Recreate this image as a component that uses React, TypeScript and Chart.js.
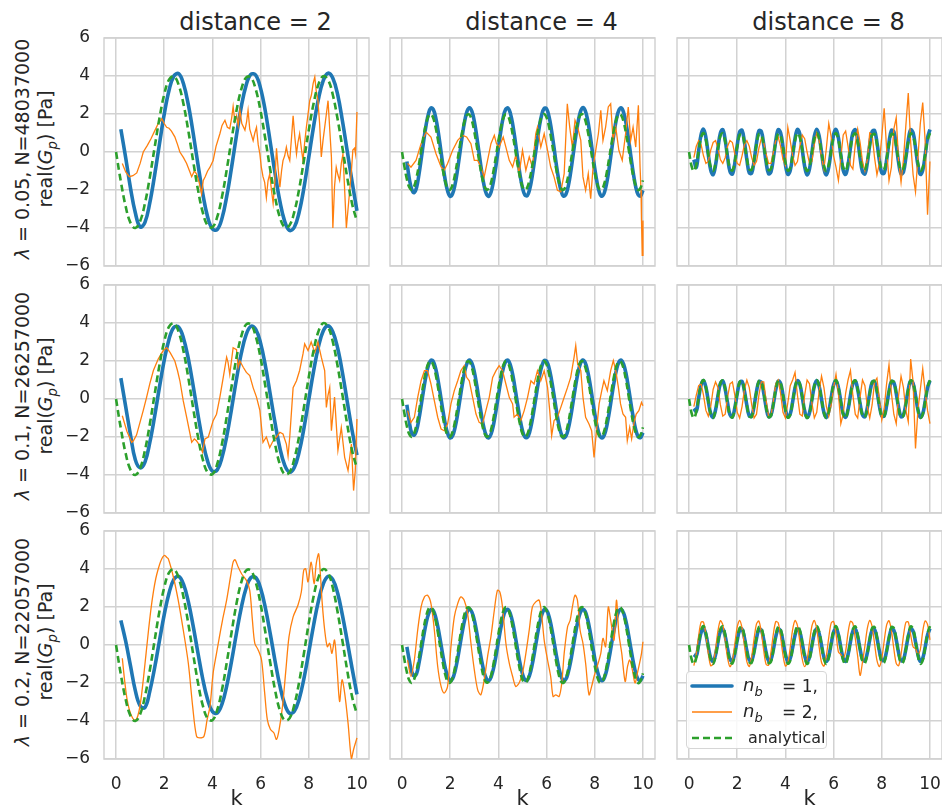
import React, { useEffect, useRef } from 'react';
import { Chart, registerables } from 'chart.js';

Chart.register(...registerables);

// ---------------- data ----------------
const COL_TITLES = ['distance = 2', 'distance = 4', 'distance = 8'];
const ROW_LAMBDA = ['0.05', '0.1', '0.2'];
const ROW_N = ['48037000', '26257000', '22057000'];
const X_TICKS = [0, 2, 4, 6, 8, 10];
const Y_TICKS = [-6, -4, -2, 0, 2, 4, 6];

const K_COARSE = [0, 0.2, 0.4, 0.6, 0.8, 1, 1.2, 1.4, 1.6, 1.8, 2, 2.2, 2.4, 2.6, 2.8, 3, 3.2, 3.4, 3.6, 3.8, 4, 4.2, 4.4, 4.6, 4.8, 5, 5.2, 5.4, 5.6, 5.8, 6, 6.2, 6.4, 6.6, 6.8, 7, 7.2, 7.4, 7.6, 7.8, 8, 8.2, 8.4, 8.6, 8.8, 9, 9.2, 9.4, 9.6, 9.8, 10];
const K_FINE = [
  0, 0.1, 0.2, 0.3, 0.4, 0.5, 0.6, 0.7, 0.8, 0.9,
  1, 1.1, 1.2, 1.3, 1.4, 1.5, 1.6, 1.7, 1.8, 1.9,
  2, 2.1, 2.2, 2.3, 2.4, 2.5, 2.6, 2.7, 2.8, 2.9,
  3, 3.1, 3.2, 3.3, 3.4, 3.5, 3.6, 3.7, 3.8, 3.9,
  4, 4.1, 4.2, 4.3, 4.4, 4.5, 4.6, 4.7, 4.8, 4.9,
  5, 5.1, 5.2, 5.3, 5.4, 5.5, 5.6, 5.7, 5.8, 5.9,
  6, 6.1, 6.2, 6.3, 6.4, 6.5, 6.6, 6.7, 6.8, 6.9,
  7, 7.1, 7.2, 7.3, 7.4, 7.5, 7.6, 7.7, 7.8, 7.9,
  8, 8.1, 8.2, 8.3, 8.4, 8.5, 8.6, 8.7, 8.8, 8.9,
  9, 9.1, 9.2, 9.3, 9.4, 9.5, 9.6, 9.7, 9.8, 9.9,
  10,
];

// analytical (green dashed)
const ANALYTIC_D2 = [0, -1.56, -2.87, -3.73, -4.0, -3.64, -2.7, -1.34, 0.23, 1.77, 3.03, 3.81, 3.98, 3.53, 2.52, 1.12, -0.47, -1.98, -3.18, -3.87, -3.96, -3.42, -2.34, -0.89, 0.7, 2.18, 3.31, 3.92, 3.92, 3.29, 2.15, 0.66, -0.92, -2.37, -3.44, -3.96, -3.86, -3.15, -1.95, -0.43, 1.15, 2.55, 3.55, 3.99, 3.8, 3.0, 1.71, 0.2, -1.37, -2.73, -3.65];
const ANALYTIC_D4 = [
  0, -0.78, -1.43, -1.86, -2.0, -1.82, -1.35, -0.67, 0.12, 0.89,
  1.51, 1.9, 1.99, 1.77, 1.26, 0.56, -0.23, -0.99, -1.59, -1.94,
  -1.98, -1.71, -1.17, -0.45, 0.35, 1.09, 1.66, 1.96, 1.96, 1.65,
  1.07, 0.33, -0.46, -1.18, -1.72, -1.98, -1.93, -1.58, -0.97, -0.21,
  0.58, 1.28, 1.77, 1.99, 1.9, 1.5, 0.87, 0.1, -0.69, -1.36,
  -1.83, -2.0, -1.86, -1.42, -0.76, 0.02, 0.79, 1.45, 1.87, 2.0,
  1.81, 1.34, 0.65, -0.13, -0.9, -1.53, -1.91, -1.99, -1.76, -1.25,
  -0.54, 0.25, 1.01, 1.6, 1.94, 1.98, 1.7, 1.16, 0.43, -0.37,
  -1.1, -1.67, -1.97, -1.95, -1.64, -1.06, -0.31, 0.48, 1.2, 1.73,
  1.98, 1.93, 1.57, 0.96, 0.2, -0.59, -1.29, -1.78, -2.0, -1.89,
  -1.49,
];
const ANALYTIC_D8 = [
  0, -0.72, -1.0, -0.68, 0.06, 0.76, 1.0, 0.63, -0.12, -0.79,
  -0.99, -0.59, 0.17, 0.83, 0.98, 0.54, -0.23, -0.86, -0.97, -0.49,
  0.29, 0.89, 0.95, 0.43, -0.34, -0.91, -0.93, -0.38, 0.4, 0.94,
  0.91, 0.33, -0.45, -0.95, -0.88, -0.27, 0.5, 0.97, 0.85, 0.21,
  -0.55, -0.98, -0.82, -0.16, 0.6, 0.99, 0.78, 0.1, -0.65, -1.0,
  -0.75, -0.04, 0.69, 1.0, 0.71, -0.02, -0.73, -1.0, -0.66, 0.08,
  0.77, 0.99, 0.62, -0.14, -0.81, -0.99, -0.57, 0.19, 0.84, 0.98,
  0.52, -0.25, -0.87, -0.96, -0.47, 0.31, 0.89, 0.94, 0.42, -0.36,
  -0.92, -0.92, -0.37, 0.41, 0.94, 0.9, 0.31, -0.47, -0.96, -0.87,
  -0.25, 0.52, 0.98, 0.84, 0.2, -0.57, -0.99, -0.81, -0.14, 0.61,
  0.99,
];

// n_b = 1 (blue)
const NB1_D2_L005 = [null, 1.2, -0.3, -1.9, -3.2, -3.95, -3.7, -2.68, -1.23, 0.41, 1.99, 3.25, 4.0, 4.12, 3.59, 2.49, 1.0, -0.65, -2.19, -3.41, -4.05, -4.08, -3.48, -2.3, -0.77, 0.88, 2.39, 3.52, 4.09, 4.04, 3.35, 2.12, 0.53, -1.12, -2.59, -3.65, -4.13, -3.96, -3.17, -1.88, -0.28, 1.35, 2.78, 3.76, 4.15, 3.88, 3.02, 1.62, 0.02, -1.58, -3.1];
const NB1_D2_L01 = [null, 1.1, -0.4, -1.9, -3.2, -3.62, -3.32, -2.3, -0.92, 0.61, 2.04, 3.15, 3.77, 3.78, 3.2, 2.12, 0.7, -0.83, -2.23, -3.27, -3.8, -3.73, -3.07, -1.93, -0.48, 1.05, 2.41, 3.39, 3.83, 3.67, 2.93, 1.74, 0.25, -1.26, -2.58, -3.48, -3.85, -3.6, -2.79, -1.53, -0.03, 1.47, 2.74, 3.58, 3.85, 3.53, 2.67, 1.37, -0.16, -1.67, -2.95];
const NB1_D2_L02 = [null, 1.3, 0.2, -1.1, -2.4, -3.2, -3.29, -2.44, -1.21, 0.21, 1.6, 2.74, 3.45, 3.61, 3.2, 2.28, 1.01, -0.42, -1.79, -2.87, -3.5, -3.58, -3.1, -2.12, -0.81, 0.63, 1.97, 3.0, 3.55, 3.55, 2.98, 1.94, 0.6, -0.84, -2.14, -3.11, -3.59, -3.49, -2.85, -1.76, -0.39, 1.04, 2.31, 3.21, 3.61, 3.44, 2.72, 1.55, 0.18, -1.24, -2.6];

const NB1_D4_L005 = [
  null, null, -0.5, -1.4, -1.95, -2.14, -1.88, -1.2, -0.33, 0.6,
  1.43, 2.03, 2.32, 2.23, 1.8, 1.08, 0.19, -0.73, -1.53, -2.09,
  -2.33, -2.19, -1.71, -0.96, -0.06, 0.86, 1.63, 2.15, 2.33, 2.14,
  1.62, 0.83, -0.08, -0.98, -1.73, -2.2, -2.33, -2.09, -1.51, -0.71,
  0.21, 1.1, 1.82, 2.24, 2.31, 2.02, 1.41, 0.57, -0.35, -1.22,
  -1.89, -2.27, -2.29, -1.95, -1.3, -0.44, 0.48, 1.33, 1.97, 2.3,
  2.27, 1.87, 1.18, 0.31, -0.62, -1.44, -2.04, -2.32, -2.23, -1.79,
  -1.07, -0.17, 0.74, 1.54, 2.1, 2.33, 2.19, 1.7, 0.94, 0.04,
  -0.87, -1.64, -2.16, -2.33, -2.13, -1.6, -0.82, 0.1, 1.0, 1.74,
  2.2, 2.32, 2.07, 1.5, 0.69, -0.24, -1.12, -1.83, -2.25, -2.31,
  -2.01,
];
const NB1_D4_L01 = [
  null, null, -0.3, -1.2, -1.8, -1.9, -1.66, -1.06, -0.29, 0.52,
  1.25, 1.79, 2.04, 1.97, 1.58, 0.95, 0.17, -0.64, -1.35, -1.84,
  -2.05, -1.93, -1.5, -0.85, -0.05, 0.75, 1.44, 1.89, 2.05, 1.88,
  1.43, 0.73, -0.07, -0.86, -1.52, -1.94, -2.05, -1.83, -1.33, -0.62,
  0.19, 0.97, 1.6, 1.97, 2.04, 1.78, 1.24, 0.5, -0.31, -1.07,
  -1.67, -2.0, -2.02, -1.72, -1.14, -0.39, 0.42, 1.17, 1.73, 2.02,
  1.99, 1.65, 1.04, 0.27, -0.54, -1.27, -1.8, -2.04, -1.96, -1.57,
  -0.94, -0.15, 0.65, 1.36, 1.85, 2.05, 1.92, 1.49, 0.83, 0.03,
  -0.77, -1.45, -1.9, -2.05, -1.88, -1.41, -0.72, 0.09, 0.88, 1.53,
  1.94, 2.04, 1.82, 1.32, 0.6, -0.21, -0.98, -1.61, -1.98, -2.03,
  -1.77,
];
const NB1_D4_L02 = [
  null, null, -0.1, -0.8, -1.4, -1.63, -1.52, -0.97, -0.27, 0.48,
  1.15, 1.64, 1.87, 1.8, 1.45, 0.87, 0.16, -0.59, -1.24, -1.69,
  -1.88, -1.77, -1.38, -0.78, -0.05, 0.69, 1.32, 1.74, 1.88, 1.73,
  1.31, 0.67, -0.06, -0.79, -1.39, -1.77, -1.88, -1.68, -1.22, -0.57,
  0.17, 0.89, 1.46, 1.81, 1.87, 1.63, 1.14, 0.46, -0.28, -0.98,
  -1.53, -1.83, -1.85, -1.57, -1.05, -0.36, 0.39, 1.08, 1.59, 1.86,
  1.83, 1.51, 0.96, 0.25, -0.5, -1.16, -1.65, -1.87, -1.8, -1.44,
  -0.86, -0.14, 0.6, 1.25, 1.7, 1.88, 1.77, 1.37, 0.76, 0.03,
  -0.71, -1.33, -1.74, -1.88, -1.72, -1.29, -0.66, 0.08, 0.8, 1.4,
  1.78, 1.87, 1.67, 1.21, 0.55, -0.19, -0.9, -1.47, -1.81, -1.86,
  -1.62,
];

const NB1_D8_L005 = [
  null, null, -0.4, -0.81, 0.07, 0.91, 1.2, 0.76, -0.14, -0.95,
  -1.19, -0.7, 0.21, 0.99, 1.18, 0.64, -0.28, -1.03, -1.16, -0.58,
  0.35, 1.06, 1.14, 0.52, -0.41, -1.1, -1.11, -0.46, 0.48, 1.12,
  1.09, 0.39, -0.54, -1.14, -1.05, -0.33, 0.6, 1.17, 1.02, 0.26,
  -0.66, -1.18, -0.98, -0.19, 0.72, 1.19, 0.94, 0.12, -0.77, -1.2,
  -0.89, -0.05, 0.83, 1.2, 0.85, -0.02, -0.88, -1.2, -0.79, 0.09,
  0.92, 1.19, 0.74, -0.16, -0.97, -1.18, -0.68, 0.23, 1.01, 1.17,
  0.63, -0.3, -1.04, -1.15, -0.57, 0.37, 1.07, 1.13, 0.5, -0.43,
  -1.1, -1.11, -0.44, 0.5, 1.13, 1.08, 0.37, -0.56, -1.15, -1.05,
  -0.3, 0.62, 1.17, 1.01, 0.24, -0.68, -1.18, -0.97, -0.17, 0.74,
  1.19,
];
const NB1_D8_L01 = [
  null, null, -0.5, -0.65, 0.06, 0.73, 0.97, 0.61, -0.11, -0.77,
  -0.96, -0.57, 0.17, 0.8, 0.95, 0.52, -0.22, -0.83, -0.94, -0.47,
  0.28, 0.86, 0.92, 0.42, -0.33, -0.89, -0.9, -0.37, 0.39, 0.91,
  0.88, 0.32, -0.44, -0.93, -0.85, -0.26, 0.49, 0.94, 0.82, 0.21,
  -0.53, -0.95, -0.79, -0.15, 0.58, 0.96, 0.76, 0.1, -0.63, -0.97,
  -0.72, -0.04, 0.67, 0.97, 0.68, -0.02, -0.71, -0.97, -0.64, 0.07,
  0.74, 0.96, 0.6, -0.13, -0.78, -0.96, -0.55, 0.19, 0.81, 0.95,
  0.51, -0.24, -0.84, -0.93, -0.46, 0.3, 0.87, 0.92, 0.41, -0.35,
  -0.89, -0.89, -0.35, 0.4, 0.91, 0.87, 0.3, -0.45, -0.93, -0.84,
  -0.25, 0.5, 0.95, 0.82, 0.19, -0.55, -0.96, -0.78, -0.13, 0.59,
  0.96,
];
const NB1_D8_L02 = [
  null, null, -0.5, -0.59, 0.05, 0.66, 0.87, 0.55, -0.1, -0.69,
  -0.86, -0.51, 0.15, 0.72, 0.85, 0.47, -0.2, -0.75, -0.84, -0.42,
  0.25, 0.77, 0.83, 0.38, -0.3, -0.79, -0.81, -0.33, 0.35, 0.81,
  0.79, 0.28, -0.39, -0.83, -0.76, -0.24, 0.44, 0.84, 0.74, 0.19,
  -0.48, -0.86, -0.71, -0.14, 0.52, 0.86, 0.68, 0.09, -0.56, -0.87,
  -0.65, -0.03, 0.6, 0.87, 0.61, -0.02, -0.64, -0.87, -0.58, 0.07,
  0.67, 0.86, 0.54, -0.12, -0.7, -0.86, -0.5, 0.17, 0.73, 0.85,
  0.45, -0.22, -0.76, -0.84, -0.41, 0.27, 0.78, 0.82, 0.36, -0.31,
  -0.8, -0.8, -0.32, 0.36, 0.82, 0.78, 0.27, -0.41, -0.83, -0.76,
  -0.22, 0.45, 0.85, 0.73, 0.17, -0.49, -0.86, -0.7, -0.12, 0.53,
  0.86,
];

// n_b = 2 (orange), distance = 2 (irregular k samples)
const NB2_D2_L005_K = [0.26, 0.4, 0.55, 0.7, 0.86, 1.0, 1.13, 1.3, 1.45, 1.62, 1.75, 1.9, 2.0, 2.1, 2.2, 2.3, 2.44, 2.55, 2.65, 2.8, 2.93, 3.05, 3.14, 3.25, 3.34, 3.45, 3.55, 3.62, 3.7, 3.8, 3.9, 4.03, 4.15, 4.31, 4.4, 4.52, 4.62, 4.72, 4.8, 4.86, 4.93, 5.0, 5.07, 5.14, 5.22, 5.35, 5.42, 5.48, 5.55, 5.62, 5.69, 5.76, 5.83, 5.9, 5.97, 6.03, 6.1, 6.17, 6.24, 6.31, 6.38, 6.45, 6.52, 6.59, 6.66, 6.73, 6.8, 6.87, 6.93, 7.0, 7.07, 7.14, 7.21, 7.28, 7.35, 7.42, 7.49, 7.55, 7.62, 7.69, 7.76, 7.83, 7.9, 7.97, 8.04, 8.11, 8.18, 8.25, 8.31, 8.38, 8.45, 8.52, 8.59, 8.66, 8.73, 8.8, 8.87, 8.94, 9.0, 9.07, 9.14, 9.21, 9.28, 9.35, 9.42, 9.49, 9.56, 9.63, 9.7, 9.77, 9.83, 9.9, 9.94, 10.0];
const NB2_D2_L005 = [-0.6, -1.05, -1.3, -1.25, -1.1, -0.6, 0, 0.35, 0.7, 1.15, 1.5, 1.75, 1.5, 1.3, 1.25, 1.1, 0.8, 0.4, 0, -0.3, -0.6, -1.0, -1.3, -1.0, -1.15, -1.6, -2.2, -1.5, -1.3, -1.0, -0.8, -0.45, 0.3, 0.96, 1.4, 1.67, 1.3, 1.23, 1.8, 2.4, 1.6, 1.9, 1.4, 2.2, 1.5, 1.15, 1.6, 2.2, 1.2, 0.9, 0.6, 1.0, 1.3, 0.4, -0.1, -0.8, -1.3, -1.6, -2.4, -1.5, -1.15, -2.0, -2.7, -1.6, 0.2, -0.9, -1.85, -1.0, -0.45, -0.2, 0.26, -0.2, -0.45, 0.7, 1.9, 0.8, -0.1, 0.5, 0.96, 0.2, -0.45, 0.5, 1.3, 2.0, 2.7, 3.0, 3.6, 3.95, 3.2, 2.7, 1.5, -0.26, 0.6, 1.3, 2.0, 2.7, 1.2, -0.26, -4.0, -1.8, -0.8, -1.2, -1.5, -0.6, -0.1, -2.0, -4.0, -3.0, -2.0, -1.0, 0.1, 0.2, -0.1, 2.1];
const NB2_D2_L01_K = [0.26, 0.45, 0.65, 0.72, 0.85, 1.0, 1.13, 1.27, 1.4, 1.55, 1.75, 1.96, 2.1, 2.24, 2.44, 2.55, 2.65, 2.79, 2.93, 3.07, 3.14, 3.25, 3.34, 3.48, 3.59, 3.69, 3.83, 4.03, 4.17, 4.31, 4.45, 4.59, 4.65, 4.72, 4.86, 5.0, 5.07, 5.14, 5.28, 5.41, 5.55, 5.69, 5.83, 5.97, 6.1, 6.24, 6.38, 6.52, 6.66, 6.8, 6.93, 7.07, 7.14, 7.21, 7.35, 7.49, 7.62, 7.76, 7.83, 7.97, 8.1, 8.25, 8.38, 8.52, 8.66, 8.73, 8.8, 8.87, 8.94, 9.07, 9.21, 9.35, 9.49, 9.63, 9.77, 9.86, 9.93, 10.0];
const NB2_D2_L01 = [-0.88, -1.7, -2.28, -2.2, -1.9, -1.2, -0.6, 0.1, 0.8, 1.5, 2.1, 2.55, 2.7, 2.45, 2.0, 1.5, 0.96, -0.1, -0.96, -1.84, -2.28, -2.1, -2.2, -2.46, -2.8, -2.1, -2.0, -1.14, -0.8, 0.1, 1.14, 2.2, 1.93, 1.3, 2.7, 2.6, 1.67, 2.0, 1.67, 1.4, 1.23, 0.6, 0.1, -0.6, -2.28, -2.0, -2.55, -2.2, -2.0, -1.75, -1.84, -2.37, -3.0, -2.0, 0.6, 0.96, 1.5, 2.37, 2.9, 2.55, 3.0, 2.45, 3.0, 2.2, 1.5, -0.44, 0.2, 0.6, -1.67, 0.1, -2.7, -1.5, -3.07, -3.77, -2.37, -4.82, -3.77, -1.05];
const NB2_D2_L02_K = [0.26, 0.35, 0.45, 0.55, 0.65, 0.75, 0.85, 0.95, 1.05, 1.15, 1.25, 1.35, 1.45, 1.55, 1.65, 1.75, 1.85, 1.95, 2.02, 2.1, 2.17, 2.38, 2.58, 2.79, 3.0, 3.18, 3.34, 3.48, 3.65, 3.78, 3.9, 4.03, 4.17, 4.28, 4.42, 4.59, 4.75, 4.86, 4.94, 5.07, 5.21, 5.41, 5.55, 5.66, 5.76, 5.9, 6.04, 6.17, 6.28, 6.41, 6.55, 6.66, 6.77, 6.91, 7.05, 7.18, 7.35, 7.55, 7.69, 7.79, 7.87, 7.97, 8.1, 8.22, 8.31, 8.41, 8.48, 8.56, 8.66, 8.77, 8.87, 8.96, 9.07, 9.17, 9.28, 9.38, 9.49, 9.63, 9.77, 9.86, 10.0];
const NB2_D2_L02 = [-0.7, -1.8, -2.8, -3.4, -3.75, -3.95, -3.9, -3.5, -2.7, -1.6, -0.4, 0.8, 1.9, 2.8, 3.5, 4.0, 4.4, 4.65, 4.72, 4.62, 4.54, 3.58, 2.36, 0.79, -0.96, -3.23, -4.8, -4.89, -4.8, -3.93, -3.23, -1.48, -0.44, 0.35, 1.31, 2.36, 3.58, 4.36, 4.49, 4.1, 3.75, 3.4, 2.88, 1.31, 0.09, -0.26, -0.79, -2.53, -3.93, -4.45, -4.62, -4.97, -4.45, -3.23, -1.31, 0.44, 1.48, 2.09, 2.79, 3.93, 4.01, 3.32, 4.36, 3.23, 4.28, 4.8, 3.75, 2.18, 0.79, -0.09, 0.09, -0.44, 0.26, -1.13, -2.97, -1.83, -2.53, -4.1, -5.99, -5.5, -4.89];

// n_b = 2 (orange), distance = 4
const NB2_D4_L005_K = [0.23, 0.37, 0.58, 0.79, 1.0, 1.2, 1.41, 1.62, 1.75, 1.89, 2.1, 2.31, 2.51, 2.68, 2.86, 3.0, 3.14, 3.27, 3.41, 3.55, 3.69, 3.83, 3.92, 4.03, 4.2, 4.31, 4.45, 4.59, 4.72, 4.86, 5.0, 5.14, 5.28, 5.41, 5.55, 5.62, 5.76, 5.9, 6.04, 6.17, 6.31, 6.45, 6.59, 6.73, 6.86, 6.96, 7.07, 7.18, 7.29, 7.42, 7.51, 7.62, 7.73, 7.83, 7.93, 8.04, 8.15, 8.25, 8.34, 8.45, 8.56, 8.66, 8.76, 8.87, 9.0, 9.14, 9.28, 9.39, 9.49, 9.59, 9.7, 9.81, 9.88, 9.92, 9.94, 9.97, 10.0];
const NB2_D4_L005 = [-0.6, -0.8, -0.44, 0.44, 1.05, 0.79, -0.09, -0.79, -0.96, -0.61, 0.09, 0.61, 0.88, 0.79, 0.44, -0.44, -0.44, -0.79, -1.31, -0.44, 0.44, 0.88, 0.44, 0.26, 0.79, 0.26, -0.44, -0.79, -0.18, -1.14, 0.09, -0.96, -0.26, -0.79, 0.96, 1.31, 0.26, 0.96, 0.09, -0.79, -1.31, -2.02, -2.1, -1.14, 2.54, 1.31, 0.26, 1.67, 1.31, 0.61, -1.31, -2.02, -1.14, -2.46, -0.79, 0.09, 0.96, 2.19, 0.61, 1.31, 2.37, 2.54, 0.61, 1.31, 0.09, -0.44, 0.96, 2.37, 0.61, 1.31, 0.26, 2.46, -0.79, -2.02, -3.6, -5.44, -3.6];
const NB2_D4_L01_K = [0.23, 0.37, 0.51, 0.65, 0.79, 0.93, 1.06, 1.2, 1.34, 1.48, 1.62, 1.75, 1.89, 2.03, 2.17, 2.31, 2.44, 2.58, 2.68, 2.79, 2.93, 3.07, 3.2, 3.34, 3.48, 3.62, 3.76, 3.9, 4.03, 4.17, 4.31, 4.45, 4.59, 4.65, 4.79, 4.93, 5.07, 5.21, 5.35, 5.48, 5.62, 5.76, 5.9, 6.04, 6.13, 6.21, 6.31, 6.45, 6.59, 6.73, 6.87, 7.0, 7.14, 7.21, 7.29, 7.42, 7.51, 7.62, 7.76, 7.87, 7.97, 8.07, 8.18, 8.29, 8.38, 8.52, 8.66, 8.77, 8.87, 8.98, 9.07, 9.17, 9.28, 9.35, 9.45, 9.53, 9.63, 9.72, 9.83, 9.94, 10.0];
const NB2_D4_L01 = [-0.61, -1.23, -0.96, 0.09, 0.96, 1.49, 1.49, 0.79, -0.09, -0.96, -1.58, -1.67, -1.32, -0.26, 0.44, 0.96, 1.49, 1.75, 1.14, 0.96, 0.09, -0.79, -1.23, -1.32, -0.61, 0.09, 1.14, 1.49, 1.75, 1.49, 0.79, 0.09, -0.26, -0.96, -0.79, -1.14, -0.61, 0.09, 0.96, 0.79, 1.49, 0.96, 1.49, 0.61, -0.61, -1.93, -1.14, -0.96, -0.44, 0.09, 0.61, 1.14, 2.19, 2.81, 1.84, 1.49, 0.09, -0.96, -1.32, -1.67, -3.07, -1.67, -0.26, 0.44, 0.96, 0.44, 1.49, 2.02, 1.49, 0.61, -0.26, -0.79, -0.96, -2.19, -1.49, -2.1, -1.23, -0.79, -0.61, -0.18, -0.35];
const NB2_D4_L02_K = [0.23, 0.37, 0.51, 0.65, 0.79, 0.93, 1.06, 1.2, 1.34, 1.48, 1.62, 1.75, 1.89, 2.03, 2.17, 2.31, 2.44, 2.58, 2.72, 2.86, 3.0, 3.14, 3.27, 3.41, 3.55, 3.69, 3.83, 3.96, 4.06, 4.17, 4.31, 4.45, 4.59, 4.72, 4.86, 5.0, 5.14, 5.28, 5.41, 5.55, 5.69, 5.79, 5.9, 6.04, 6.17, 6.27, 6.38, 6.52, 6.63, 6.73, 6.87, 6.98, 7.07, 7.18, 7.28, 7.39, 7.51, 7.62, 7.76, 7.87, 7.97, 8.1, 8.25, 8.34, 8.45, 8.56, 8.66, 8.8, 8.9, 9.0, 9.12, 9.26, 9.36, 9.45, 9.56, 9.67, 9.77, 9.86, 9.94, 10.0];
const NB2_D4_L02 = [-0.79, -1.66, -0.79, 0.79, 2.0, 2.53, 2.62, 2.18, 0.79, -1.13, -2.18, -2.53, -2.18, -0.09, 1.48, 2.18, 2.53, 2.36, 1.66, 0.09, -1.31, -2.36, -2.62, -1.83, -0.61, 0.44, 1.83, 2.88, 2.79, 2.0, 0.09, -0.96, -1.66, -2.18, -2.0, -1.48, -0.44, 0.79, 2.0, 2.27, 2.36, 1.66, 0.26, -0.79, -1.66, -2.71, -2.62, -2.71, -2.0, -0.44, 0.96, 1.31, 2.0, 2.62, 2.36, 0.79, 0.09, -0.96, -2.62, -2.18, -1.66, -1.13, -0.44, 0.35, -0.09, 2.0, 1.31, 0.26, 2.36, 0.61, -0.44, -1.92, -1.13, -0.79, -1.31, -2.0, -1.48, -0.96, -0.44, 0.17];

// n_b = 2 (orange), distance = 8 (on K_FINE)
const NB2_D8_L005 = [
  null, null, -0.3, 0.3, 0.6, 0.4, -0.2, -0.6, -0.5, 0.1,
  0.5, 0.6, 0.2, -0.4, -0.6, -0.3, 0.3, 0.6, 0.5, -0.1,
  -0.6, -0.7, -0.2, 0.4, 0.6, 0.3, -0.3, -0.7, -0.5, 0.2,
  0.7, 0.5, -0.1, -0.6, -0.6, 0.0, 0.6, 0.8, 0.3, -0.4,
  -0.7, 1.3, 0.6, -0.2, -0.7, -0.5, 0.3, 0.9, 0.7, 0.0,
  -0.6, -0.5, 0.4, 1.0, 0.6, -0.3, -0.9, 0.2, 1.5, 0.8,
  -0.2, -0.8, -1.5, -0.3, 0.9, 1.1, 0.3, -0.7, -0.9, 0.4,
  1.2, 0.5, -0.5, -1.0, -0.4, 1.0, 0.9, -0.3, -1.2, -0.6,
  0.8, 2.3, 0.2, -1.5, -0.8, 1.2, 1.8, -0.5, -1.6, -0.4,
  1.4, 3.1, 0.5, -1.2, -2.1, -0.3, 1.5, 2.6, 0.6, -3.3,
  -0.5,
];
const NB2_D8_L01 = [
  null, null, -0.4, 0.2, 0.7, 0.8, 0.2, -0.6, -0.9, -0.4,
  0.5, 0.9, 0.6, -0.3, -0.9, -0.8, 0.1, 0.8, 0.9, 0.2,
  -0.7, -1.0, -0.4, 0.5, 1.0, 0.6, -0.3, -1.0, -0.8, 0.2,
  0.9, 0.9, -0.1, -0.9, -0.9, -0.1, 0.8, 1.0, 0.3, -0.7,
  -1.0, -0.2, 0.7, 1.0, 1.4, 0.2, -0.8, -0.9, 0.2, 1.0,
  0.8, -0.2, -1.0, -0.7, 0.4, 1.2, 0.6, -0.4, -0.9, -0.3,
  0.6, 1.3, 0.3, -1.3, -0.8, 0.3, 1.0, 1.5, 0.2, -0.8,
  -1.0, 0.1, 1.0, 0.7, -0.4, -1.0, -0.3, 0.9, 1.1, 0.0,
  -1.1, -0.5, 0.8, 1.8, 0.3, -0.8, -1.3, 0.2, 1.2, 0.6,
  -0.6, -1.2, 2.1, 0.9, -2.6, -0.6, 0.5, 1.6, 0.4, -0.6,
  -1.3,
];
const NB2_D8_L02 = [
  null, null, -1.09, -0.46, 0.5, 1.2, 1.2, 0.5, -0.46, -1.09,
  -0.98, -0.22, 0.74, 1.28, 1.07, 0.24, -0.69, -1.14, -0.82, 0.05,
  0.95, 1.3, 0.89, -0.03, -0.88, -1.13, -0.62, 0.32, 1.11, 1.26,
  0.67, -0.29, -1.02, -1.06, -0.39, 0.58, 1.23, 1.17, 0.42, -0.53,
  -1.11, -0.94, -0.13, 0.81, 1.29, 1.02, 0.16, -0.75, -1.14, -0.77,
  0.13, 1.0, 1.29, 0.83, -0.11, -0.92, -1.11, -0.56, 0.4, 1.15,
  1.24, 0.6, -0.36, -0.5, -0.7, -0.32, 0.65, 1.25, 1.13, 0.35,
  -0.6, -1.6, -0.9, -0.05, 0.87, 1.3, 0.97, 0.08, -0.81, -1.14,
  -0.71, 0.21, 1.05, 1.28, 0.76, -0.19, -0.97, -1.09, -0.49, 0.48,
  1.19, 1.21, 0.53, -0.1, -0.2, -0.5, -0.24, 0.72, 1.27, 1.08,
  0.27,
];

// ---------------- styling / layout ----------------
const FONT = '"DejaVu Sans", "Liberation Sans", sans-serif';
const TEXT = '#262626';
const GRID = '#d2d2d2';
const BLUE = '#1f77b4';
const ORANGE = '#ff7f0e';
const GREEN = '#2ca02c';

const PLOT_LEFT = [104, 390, 677];
const PLOT_TOP = [38, 285, 531];
const PLOT_W = 265;
const PLOT_H = 228;
const PAGE_W = 942;
const PAGE_H = 812;

type Pt = { x: number; y: number | null };
const pts = (ks: number[], vs: (number | null)[]): Pt[] => ks.map((k, i) => ({ x: k, y: vs[i] }));

const SERIES = [
  [
    { blue: pts(K_COARSE, NB1_D2_L005), orange: pts(NB2_D2_L005_K, NB2_D2_L005), green: pts(K_COARSE, ANALYTIC_D2) },
    { blue: pts(K_FINE, NB1_D4_L005), orange: pts(NB2_D4_L005_K, NB2_D4_L005), green: pts(K_FINE, ANALYTIC_D4) },
    { blue: pts(K_FINE, NB1_D8_L005), orange: pts(K_FINE, NB2_D8_L005), green: pts(K_FINE, ANALYTIC_D8) },
  ],
  [
    { blue: pts(K_COARSE, NB1_D2_L01), orange: pts(NB2_D2_L01_K, NB2_D2_L01), green: pts(K_COARSE, ANALYTIC_D2) },
    { blue: pts(K_FINE, NB1_D4_L01), orange: pts(NB2_D4_L01_K, NB2_D4_L01), green: pts(K_FINE, ANALYTIC_D4) },
    { blue: pts(K_FINE, NB1_D8_L01), orange: pts(K_FINE, NB2_D8_L01), green: pts(K_FINE, ANALYTIC_D8) },
  ],
  [
    { blue: pts(K_COARSE, NB1_D2_L02), orange: pts(NB2_D2_L02_K, NB2_D2_L02), green: pts(K_COARSE, ANALYTIC_D2) },
    { blue: pts(K_FINE, NB1_D4_L02), orange: pts(NB2_D4_L02_K, NB2_D4_L02), green: pts(K_FINE, ANALYTIC_D4) },
    { blue: pts(K_FINE, NB1_D8_L02), orange: pts(K_FINE, NB2_D8_L02), green: pts(K_FINE, ANALYTIC_D8) },
  ],
];

const fmt = (v: number | string) => {
  const n = Number(v);
  return n < 0 ? '\u2212' + Math.abs(n) : String(n);
};

const framePlugin = {
  id: 'frame',
  beforeDatasetsDraw(chart: any) {
    const { ctx, chartArea: a } = chart;
    ctx.save();
    ctx.strokeStyle = GRID;
    ctx.lineWidth = 1.5;
    ctx.strokeRect(a.left, a.top, a.right - a.left, a.bottom - a.top);
    ctx.restore();
  },
};

const zeroPad = (sc: any) => {
  sc.paddingLeft = 0;
  sc.paddingRight = 0;
  sc.paddingTop = 0;
  sc.paddingBottom = 0;
};

function Panel({ row, col }: { row: number; col: number }) {
  const ref = useRef<HTMLCanvasElement>(null);
  const L = col === 0 ? 70 : 3;
  const R = 3;
  const T = 14;
  const B = row === 2 ? PAGE_H - (PLOT_TOP[2] + PLOT_H) : 14;
  const W = PLOT_W + L + R;
  const H = PLOT_H + T + B;

  useEffect(() => {
    const s = SERIES[row][col];
    const chart = new Chart(ref.current as HTMLCanvasElement, {
      type: 'line',
      data: {
        datasets: [
          { label: 'n_b = 1', data: s.blue as any, borderColor: BLUE, backgroundColor: BLUE, borderWidth: 3.6, tension: 0.4, pointRadius: 0, order: 3, fill: false },
          { label: 'n_b = 2', data: s.orange as any, borderColor: ORANGE, backgroundColor: ORANGE, borderWidth: 1.3, tension: row === 2 ? 0.3 : 0, pointRadius: 0, order: 2, fill: false },
          { label: 'analytical', data: s.green as any, borderColor: GREEN, backgroundColor: GREEN, borderWidth: 2.6, borderDash: [7, 4], tension: 0.4, pointRadius: 0, order: 1, fill: false },
        ],
      },
      options: {
        responsive: false,
        animation: false,
        events: [],
        layout: { autoPadding: false, padding: { top: T, right: R, left: 0, bottom: 0 } },
        plugins: { legend: { display: false }, tooltip: { enabled: false }, title: { display: false } },
        scales: {
          x: {
            type: 'linear',
            min: -0.5,
            max: 10.5,
            afterBuildTicks: (sc: any) => { sc.ticks = X_TICKS.map((v) => ({ value: v })); },
            afterFit: (sc: any) => { sc.height = B; zeroPad(sc); },
            grid: { color: GRID, lineWidth: 1.5, drawTicks: false },
            border: { display: false },
            ticks: { display: row === 2, autoSkip: false, maxRotation: 0, minRotation: 0, padding: 15, color: TEXT, font: { family: FONT, size: 17 }, callback: (v: any) => fmt(v) },
            title: { display: row === 2, text: 'k', color: TEXT, font: { family: FONT, size: 21 }, padding: { top: 0, bottom: 0 } },
          },
          y: {
            type: 'linear',
            min: -6,
            max: 6,
            afterBuildTicks: (sc: any) => { sc.ticks = Y_TICKS.map((v) => ({ value: v })); },
            afterFit: (sc: any) => { sc.width = L; zeroPad(sc); },
            grid: { color: GRID, lineWidth: 1.5, drawTicks: false },
            border: { display: false },
            ticks: { display: col === 0, autoSkip: false, padding: 14, color: TEXT, font: { family: FONT, size: 17 }, callback: (v: any) => fmt(v) },
          },
        },
      } as any,
      plugins: [framePlugin],
    });
    return () => chart.destroy();
  }, []);

  return (
    <canvas
      ref={ref}
      width={W}
      height={H}
      style={{ position: 'absolute', left: PLOT_LEFT[col] - L, top: PLOT_TOP[row] - T, width: W, height: H }}
    />
  );
}

function Legend() {
  const rowStyle = (top: number): React.CSSProperties => ({ position: 'absolute', left: 0, top, width: '100%', height: 20 });
  const nb = (txt: string) => (
    <>
      <span style={{ position: 'absolute', left: 56, top: -1, fontSize: 18, fontStyle: 'italic', lineHeight: '20px' }}>
        n<span style={{ fontSize: 13, position: 'relative', top: 5 }}>b</span>
      </span>
      <span style={{ position: 'absolute', left: 95, top: 0, fontSize: 17, lineHeight: '20px' }}>{txt}</span>
    </>
  );
  return (
    <div style={{ position: 'absolute', left: 686, top: 671, width: 141, height: 78, border: '1px solid #d6d6d6', borderRadius: 4, background: 'rgba(255,255,255,0.85)', fontFamily: FONT, color: TEXT, boxSizing: 'border-box' }}>
      <div style={rowStyle(4)}>
        <svg width={46} height={20} style={{ position: 'absolute', left: 3, top: 0 }}>
          <line x1={2} y1={10} x2={42} y2={10} stroke={BLUE} strokeWidth={3.6} strokeLinecap="round" />
        </svg>
        {nb('= 1,')}
      </div>
      <div style={rowStyle(30)}>
        <svg width={46} height={20} style={{ position: 'absolute', left: 3, top: 0 }}>
          <line x1={2} y1={10} x2={42} y2={10} stroke={ORANGE} strokeWidth={1.3} />
        </svg>
        {nb('= 2,')}
      </div>
      <div style={rowStyle(56)}>
        <svg width={46} height={20} style={{ position: 'absolute', left: 3, top: 0 }}>
          <line x1={2} y1={10} x2={42} y2={10} stroke={GREEN} strokeWidth={2.6} strokeDasharray="7 4" />
        </svg>
        <span style={{ position: 'absolute', left: 61, top: 0, fontSize: 16, lineHeight: '20px' }}>analytical</span>
      </div>
    </div>
  );
}

export default function App() {
  const rows = [0, 1, 2];
  const cols = [0, 1, 2];
  return (
    <div style={{ position: 'absolute', left: 0, top: 0, width: PAGE_W, height: PAGE_H, overflow: 'hidden', background: '#ffffff', fontFamily: FONT, color: TEXT }}>
      {cols.map((c) => (
        <div
          key={'t' + c}
          style={{ position: 'absolute', left: PLOT_LEFT[c] + PLOT_W / 2 + 19 - 120, top: 10, width: 240, textAlign: 'center', fontSize: 24, lineHeight: '24px', whiteSpace: 'nowrap' }}
        >
          {COL_TITLES[c]}
        </div>
      ))}
      {rows.map((r) => (
        <div
          key={'y' + r}
          style={{ position: 'absolute', left: 33.5 - 140, top: PLOT_TOP[r] + PLOT_H / 2 - 3 - 23, width: 280, height: 46, transform: 'rotate(-90deg)', textAlign: 'center', fontSize: 19, lineHeight: '23px', whiteSpace: 'nowrap' }}
        >
          <div>
            <i>λ</i> = {ROW_LAMBDA[r]}, N={ROW_N[r]}
          </div>
          <div>
            real(<i>G<sub style={{ fontSize: '0.7em', lineHeight: 0 }}>p</sub></i>) [Pa]
          </div>
        </div>
      ))}
      {rows.map((r) => cols.map((c) => <Panel key={r + '-' + c} row={r} col={c} />))}
      <Legend />
    </div>
  );
}
